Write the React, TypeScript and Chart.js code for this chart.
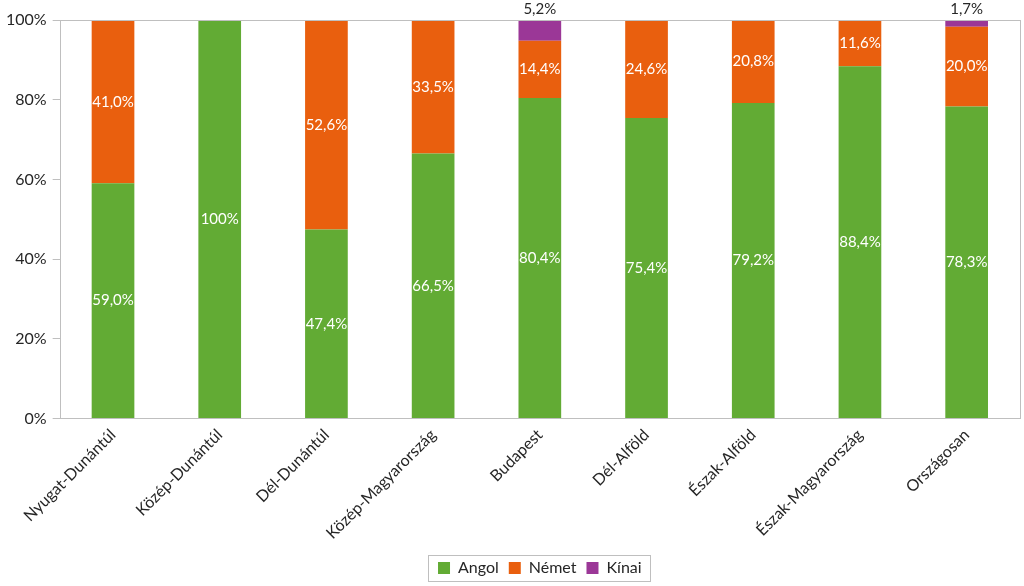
import React, { useEffect, useRef } from "react";
import { Chart, registerables } from "chart.js";

Chart.register(...registerables);

const categories = [
  "Nyugat-Dunántúl",
  "Közép-Dunántúl",
  "Dél-Dunántúl",
  "Közép-Magyarország",
  "Budapest",
  "Dél-Alföld",
  "Észak-Alföld",
  "Észak-Magyarország",
  "Országosan",
];
const angol = [59.0, 100, 47.4, 66.5, 80.4, 75.4, 79.2, 88.4, 78.3];
const nemet = [41.0, 0, 52.6, 33.5, 14.4, 24.6, 20.8, 11.6, 20.0];
const kinai = [0, 0, 0, 0, 5.2, 0, 0, 0, 1.7];
const yTicks = [0, 20, 40, 60, 80, 100];

const FONT = "Lato, 'Open Sans', sans-serif";

function fmt(v: number): string {
  if (v === 100) return "100%";
  return v.toFixed(1).replace(".", ",") + "%";
}

const labelPlugin = {
  id: "segLabels",
  afterDatasetsDraw(chart: any) {
    const ctx = chart.ctx;
    ctx.save();
    ctx.font = `15px ${FONT}`;
    ctx.textAlign = "center";
    ctx.textBaseline = "middle";
    chart.data.datasets.forEach((ds: any, di: number) => {
      const meta = chart.getDatasetMeta(di);
      meta.data.forEach((bar: any, i: number) => {
        const v = ds.data[i];
        if (!v) return;
        if (di === 2) {
          ctx.fillStyle = "#262626";
          ctx.fillText(fmt(v), bar.x, chart.chartArea.top - 11);
        } else {
          ctx.fillStyle = "#ffffff";
          ctx.fillText(fmt(v), bar.x, (bar.y + bar.base) / 2);
        }
      });
    });
    ctx.restore();
  },
  afterDraw(chart: any) {
    const ctx = chart.ctx;
    const a = chart.chartArea;
    ctx.save();
    ctx.strokeStyle = "#bfbfbf";
    ctx.lineWidth = 1;
    ctx.strokeRect(Math.round(a.left) + 0.5, Math.round(a.top) + 0.5, Math.round(a.right - a.left), Math.round(a.bottom - a.top));
    const lg = chart.legend;
    if (lg && lg.legendHitBoxes && lg.legendHitBoxes.length) {
      const hb = lg.legendHitBoxes;
      const x0 = hb[0].left - 10;
      const x1 = hb[hb.length - 1].left + hb[hb.length - 1].width + 8;
      const y0 = hb[0].top - 5;
      const y1 = hb[0].top + hb[0].height + 5;
      ctx.strokeStyle = "#bfbfbf";
      ctx.strokeRect(Math.round(x0) + 0.5, Math.round(y0) + 0.5, Math.round(x1 - x0), Math.round(y1 - y0));
    }
    ctx.restore();
  },
};

export default function App() {
  const ref = useRef<HTMLCanvasElement>(null);
  useEffect(() => {
    document.body.style.margin = "0";
    const nz = (arr: number[]) => arr.map((v) => (v === 0 ? null : v));
    const chart = new Chart(ref.current!, {
      type: "bar",
      data: {
        labels: categories,
        datasets: [
          { label: "Angol", data: nz(angol), backgroundColor: "#62ab34", barPercentage: 0.8, categoryPercentage: 0.5 },
          { label: "Német", data: nz(nemet), backgroundColor: "#e95f0e", barPercentage: 0.8, categoryPercentage: 0.5 },
          { label: "Kínai", data: nz(kinai), backgroundColor: "#9b3797", barPercentage: 0.8, categoryPercentage: 0.5 },
        ],
      },
      options: {
        animation: false,
        responsive: true,
        maintainAspectRatio: false,
        layout: { padding: { top: 20, right: 4, left: 0, bottom: 0 } },
        plugins: {
          tooltip: { enabled: false },
          legend: {
            position: "bottom",
            fullSize: false,
            labels: {
              boxWidth: 12,
              boxHeight: 12,
              padding: 10,
              color: "#262626",
              font: { family: FONT, size: 16 },
            },
          },
        },
        scales: {
          x: {
            stacked: true,
            grid: { display: false, drawTicks: false },
            border: { display: false },
            ticks: {
              minRotation: 45,
              maxRotation: 45,
              color: "#262626",
              padding: 7,
              font: { family: FONT, size: 16 },
            },
          },
          y: {
            stacked: true,
            min: 0,
            max: 100,
            afterBuildTicks(axis: any) {
              axis.ticks = yTicks.map((v) => ({ value: v }));
            },
            grid: { drawOnChartArea: false, drawTicks: true, tickLength: 7, color: "#bfbfbf" },
            border: { display: false },
            ticks: {
              color: "#262626",
              padding: 6,
              font: { family: FONT, size: 16 },
              callback: (v: any) => v + "%",
            },
          },
        },
      },
      plugins: [labelPlugin],
    });
    return () => chart.destroy();
  }, []);
  return (
    <div style={{ width: 1024, height: 586, position: "relative" }}>
      <canvas ref={ref} />
    </div>
  );
}
